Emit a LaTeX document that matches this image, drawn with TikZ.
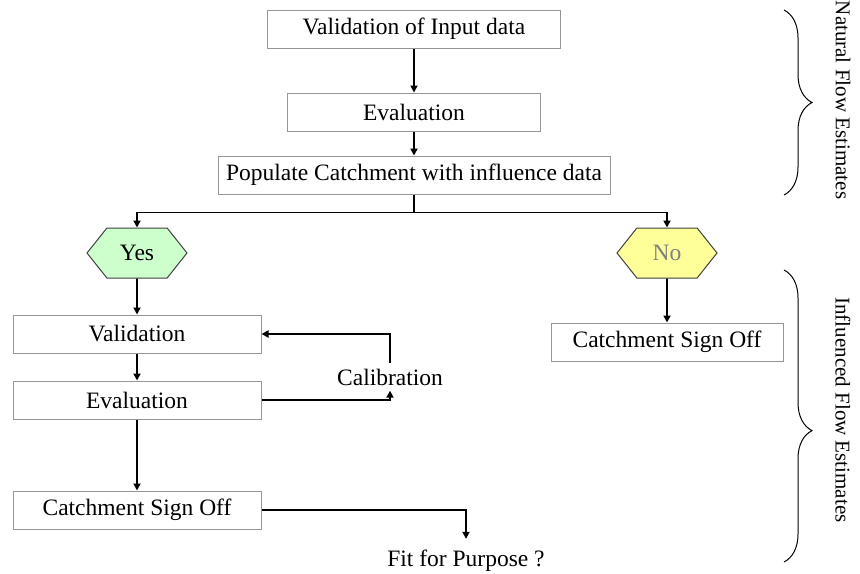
\documentclass[tikz,border=0pt]{standalone}
\usepackage{fontspec}
\setmainfont{Liberation Serif}
\definecolor{yesgreen}{RGB}{204,255,204}
\definecolor{noyellow}{RGB}{255,255,153}
\definecolor{boxline}{RGB}{150,150,150}
\usetikzlibrary{positioning,arrows.meta,shapes.symbols,decorations.pathreplacing}

\begin{document}
\begin{tikzpicture}[x=0.5pt,y=-0.5pt,
    every node/.style={font=\fontsize{11.75}{14}\selectfont},
    stepbox/.style={draw=boxline,line width=0.5pt,inner sep=2pt,minimum height=19pt},
    hexa/.style={draw=black!75,line width=0.5pt,signal,signal to=east and west,signal pointer angle=103,minimum width=50pt,minimum height=25pt,inner sep=1pt},
    flow/.style={-{Triangle[length=3.5pt,width=3.5pt]},line width=0.9pt},
    curly/.style={decorate,decoration={brace,amplitude=14pt},line width=0.5pt},
    sidelbl/.style={rotate=-90,font=\fontsize{10.5}{12}\selectfont}]
  \useasboundingbox (0,0) rectangle (860,573);

  % natural flow part
  \node[stepbox,minimum width=146.5pt] (input) at (414,29) {Validation of Input data};
  \node[stepbox,minimum width=126.5pt,below=22pt of input] (evalnat) {Evaluation};
  \node[stepbox,minimum width=196pt,below=12pt of evalnat] (populate) {Populate Catchment with influence data};
  \draw[flow] (input) -- (evalnat);
  \draw[flow] (evalnat) -- (populate);

  % decision
  \node[hexa,fill=yesgreen] (yes) at (137,253) {Yes};
  \node[hexa,fill=noyellow,text=black!50] (no) at (667,253) {No};
  \draw[line width=0.9pt] (populate.south) -- ++(0,18) coordinate (split);
  \draw[flow] (split) -| (yes.north);
  \draw[flow] (split) -| (no.north);

  % influenced flow part
  \node[stepbox,minimum width=124pt] (valinf) at (137,334) {Validation};
  \node[stepbox,minimum width=124pt,below=13.5pt of valinf] (evalinf) {Evaluation};
  \node[stepbox,minimum width=124pt,below=35.5pt of evalinf] (signyes) {Catchment Sign Off};
  \node[stepbox,minimum width=116pt,below=22pt of no] (signno) {Catchment Sign Off};
  \node[inner ysep=2.5pt] (calib) at (390,377) {Calibration};
  \node[inner ysep=5.5pt] (fit) at (466,561) {Fit for Purpose ?};
  \draw[flow] (yes) -- (valinf);
  \draw[flow] (valinf) -- (evalinf);
  \draw[flow] (evalinf) -- (signyes);
  \draw[flow] (no) -- (signno);
  \draw[flow] (evalinf.east) -| (calib.south);
  \draw[flow] (calib.north) |- (valinf.east);
  \draw[flow] (signyes.east) -| (fit.north);

  % braces
  \draw[curly] (784,10) -- (784,195);
  \draw[curly,decoration={aspect=0.55}] (784,270) -- (784,562);
  \node[sidelbl] (natlbl) at (843,100) {Natural Flow Estimates};
  \node[sidelbl] (inflbl) at (843,410) {Influenced Flow Estimates};
\end{tikzpicture}
\end{document}
